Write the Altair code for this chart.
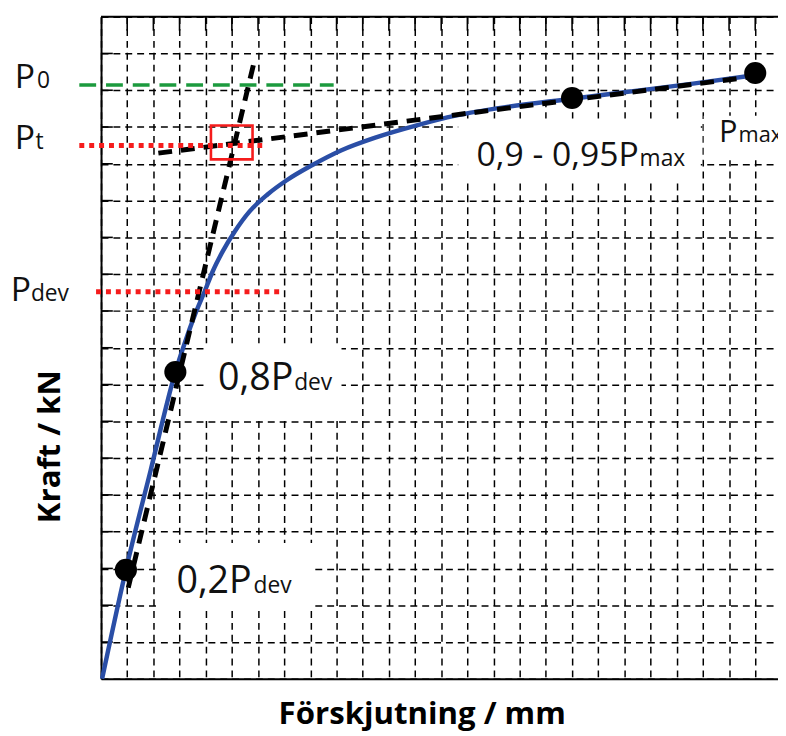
import altair as alt
import pandas as pd

# ---- extents (grid units) ----
X_MAX = 25.87
Y_MAX = 18

grid_x = list(range(0, 26))
grid_y = list(range(0, 19))

# ---- load-displacement curve ----
curve_x = [0.04, 0.95, 1.89, 2.84, 3.21, 3.59, 3.97, 4.27, 4.65, 5.11, 5.67, 6.35, 7.11,
           8.06, 9.19, 10.51, 12.03, 13.54, 15.05, 18.00, 20.73, 22.62, 25.00]
curve_y = [0.00, 2.96, 5.65, 8.34, 9.15, 9.90, 10.55, 11.08, 11.62, 12.16, 12.70, 13.16, 13.56,
           13.96, 14.37, 14.72, 15.04, 15.31, 15.50, 15.77, 16.01, 16.18, 16.41]

# ---- marked points ----
dot_x = [0.95, 2.84, 18.00, 25.00]
dot_y = [2.96, 8.34, 15.79, 16.47]

# ---- construction lines ----
tan1_x = [1.04, 5.82]
tan1_y = [2.475, 16.68]
tan2_x = [2.19, 25.00]
tan2_y = [14.29, 16.38]

# level lines: P0 (green), Pt and Pdev (red)
p0_level = {"y": 16.14, "x1": -0.83, "x2": 8.89}
red_levels_y = [14.50, 10.52]
red_levels_x1 = [-0.83, -0.19]
red_levels_x2 = [6.16, 6.85]

# red box around Pt intersection
box_x1, box_x2 = 4.20, 5.79
box_y1, box_y2 = 14.12, 15.04

# white label backgrounds
bg_x1 = [2.12, 3.97, 13.65, 23.03]
bg_x2 = [8.17, 9.19, 22.92, 25.87]
bg_y1 = [1.91, 7.10, 13.51, 14.10]
bg_y2 = [3.69, 9.12, 15.23, 15.31]

# labels: main text + subscript
left_main = ["P", "P", "P"]
left_sub = ["0", "t", "dev"]
left_x = [-3.30, -3.30, -3.45]
left_sub_x = [-2.45, -2.50, -2.68]
left_y = [16.06, 14.39, 10.28]

pt_main = ["0,2P", "0,8P"]
pt_sub = ["dev", "dev"]
pt_x = [2.88, 4.47]
pt_sub_x = [5.83, 7.38]
pt_y = [2.34, 7.86]

pt2_main = ["0,9 - 0,95P"]
pt2_sub = ["max"]
pt2_x = [14.35]
pt2_sub_x = [20.58]
pt2_y = [13.94]

pmax_main = ["P"]
pmax_sub = ["max"]
pmax_x = [23.62]
pmax_sub_x = [24.36]
pmax_y = [14.58]

FONT = "Open Sans"

xs = alt.Scale(domain=[0, X_MAX], nice=False, zero=False)
ys = alt.Scale(domain=[0, Y_MAX], nice=False, zero=False)

x_axis = alt.Axis(values=grid_x, grid=True, gridDash=[7, 5], gridColor="black", gridWidth=1.5,
                  labels=False, ticks=False, domainColor="black", domainWidth=2,
                  title="Förskjutning / mm", titleFont=FONT, titleFontSize=31.5, titleFontWeight="bold",
                  titleColor="black", titleX=324, titleY=45, titleAlign="center",
                  titleBaseline="alphabetic")
y_axis = alt.Axis(values=grid_y, grid=True, gridDash=[7, 5], gridColor="black", gridWidth=1.5,
                  labels=False, ticks=False, domainColor="black", domainWidth=2,
                  title="Kraft / kN", titleFont=FONT, titleFontSize=31.5, titleFontWeight="bold",
                  titleColor="black", titleX=-42, titleY=434, titleAlign="center",
                  titleBaseline="alphabetic", titleAngle=270)


def X(field):
    return alt.X(field, scale=xs, axis=x_axis)


def Y(field):
    return alt.Y(field, scale=ys, axis=y_axis)


curve_df = pd.DataFrame({"x": curve_x, "y": curve_y})
dots_df = pd.DataFrame({"x": dot_x, "y": dot_y})
tan1_df = pd.DataFrame({"x": tan1_x, "y": tan1_y})
tan2_df = pd.DataFrame({"x": tan2_x, "y": tan2_y})
green_df = pd.DataFrame([p0_level])
red_df = pd.DataFrame({"y": red_levels_y, "x1": red_levels_x1, "x2": red_levels_x2})
box_df = pd.DataFrame({"x1": [box_x1], "x2": [box_x2], "y1": [box_y1], "y2": [box_y2]})
bg_df = pd.DataFrame({"x1": bg_x1, "x2": bg_x2, "y1": bg_y1, "y2": bg_y2})
ltick_df = pd.DataFrame({"y": grid_y[1:-1], "x1": 0.0, "x2": 0.45})
ttick_df = pd.DataFrame({"x": grid_x[1:], "y1": Y_MAX - 0.38, "y2": float(Y_MAX)})
border_df = pd.DataFrame({"x1": [0.0], "x2": [X_MAX], "y": [float(Y_MAX)]})

bg = alt.Chart(bg_df).mark_rect(color="white").encode(
    x=X("x1:Q"), x2="x2:Q", y=Y("y1:Q"), y2="y2:Q"
)

top_border = alt.Chart(border_df).mark_rule(color="black", strokeWidth=2).encode(
    x=X("x1:Q"), x2="x2:Q", y=Y("y:Q")
)

left_ticks = alt.Chart(ltick_df).mark_rule(color="black", strokeWidth=1.6).encode(
    x=X("x1:Q"), x2="x2:Q", y=Y("y:Q")
)
top_ticks = alt.Chart(ttick_df).mark_rule(color="black", strokeWidth=1.6).encode(
    x=X("x:Q"), y=Y("y1:Q"), y2="y2:Q"
)

curve = alt.Chart(curve_df).mark_line(color="#2a4ea6", strokeWidth=4.5, interpolate="monotone").encode(
    x=X("x:Q"), y=Y("y:Q")
)

tan1 = alt.Chart(tan1_df).mark_line(color="black", strokeWidth=5, strokeDash=[14, 9]).encode(
    x=X("x:Q"), y=Y("y:Q")
)
tan2 = alt.Chart(tan2_df).mark_line(color="black", strokeWidth=5, strokeDash=[14, 9]).encode(
    x=X("x:Q"), y=Y("y:Q")
)

green = alt.Chart(green_df).mark_rule(color="#1c9a3e", strokeWidth=3.5, strokeDash=[17, 10]).encode(
    x=X("x1:Q"), x2="x2:Q", y=Y("y:Q")
)
red = alt.Chart(red_df).mark_rule(color="#f51c1c", strokeWidth=5, strokeDash=[5, 5]).encode(
    x=X("x1:Q"), x2="x2:Q", y=Y("y:Q")
)
rbox = alt.Chart(box_df).mark_rect(fillOpacity=0, stroke="#f51c1c", strokeWidth=2.6).encode(
    x=X("x1:Q"), x2="x2:Q", y=Y("y1:Q"), y2="y2:Q"
)

dots = alt.Chart(dots_df).mark_circle(color="black", size=500, opacity=1).encode(
    x=X("x:Q"), y=Y("y:Q")
)


def label_layers(main, sub, xm, xsub, yv, main_size, sub_size):
    df = pd.DataFrame({"main": main, "sub": sub, "xm": xm, "xs": xsub, "y": yv})
    base = alt.Chart(df)
    m = base.mark_text(font=FONT, fontSize=main_size, align="left", baseline="alphabetic",
                       color="#111111").encode(
        x=X("xm:Q"), y=Y("y:Q"), text="main:N")
    s = base.mark_text(font=FONT, fontSize=sub_size, align="left", baseline="alphabetic",
                       color="#111111").encode(
        x=X("xs:Q"), y=Y("y:Q"), text="sub:N")
    return [m, s]


labels = (label_layers(left_main, left_sub, left_x, left_sub_x, left_y, 34, 23)
          + label_layers(pt_main, pt_sub, pt_x, pt_sub_x, pt_y, 38, 23)
          + label_layers(pt2_main, pt2_sub, pt2_x, pt2_sub_x, pt2_y, 34, 23)
          + label_layers(pmax_main, pmax_sub, pmax_x, pmax_sub_x, pmax_y, 31, 22))

chart = alt.layer(
    bg, top_border, left_ticks, top_ticks,
    curve, tan1, tan2, green, red, rbox, dots, *labels
).properties(
    width=684, height=669,
    padding={"left": 94, "top": 5, "right": 0, "bottom": 52},
    autosize=alt.AutoSizeParams(type="none"),
).configure_view(strokeWidth=0).configure(background="white")

chart.save("out.html", embed_options={"renderer": "svg", "actions": False})
